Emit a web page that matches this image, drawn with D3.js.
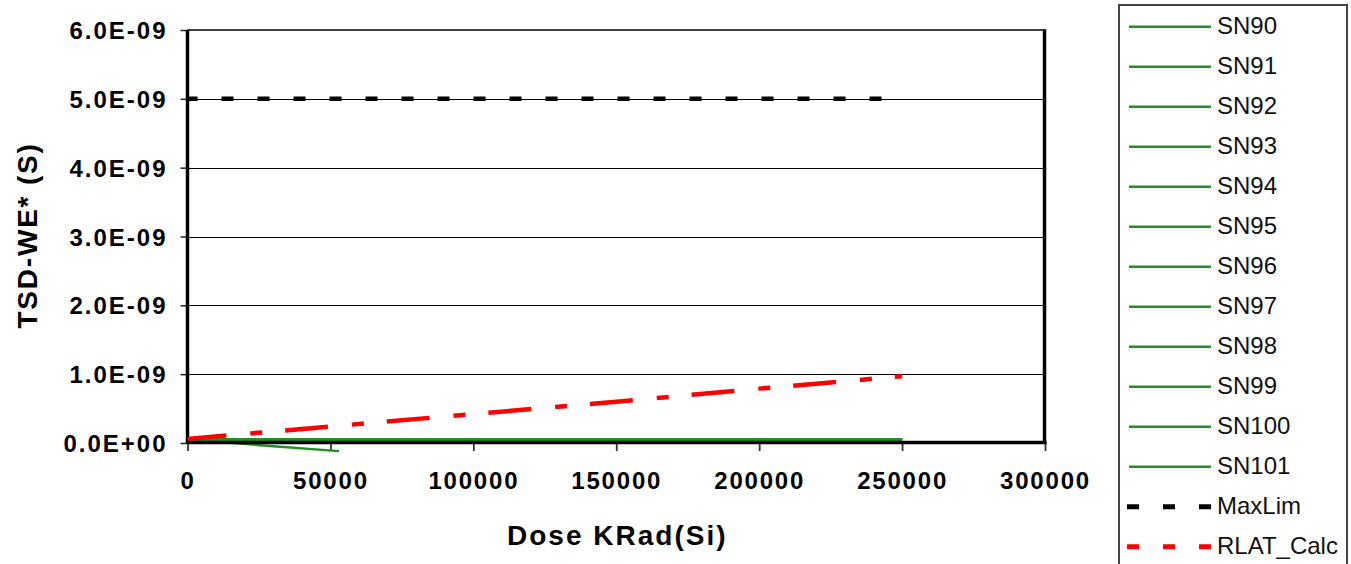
<!DOCTYPE html>
<html><head><meta charset="utf-8">
<script src="https://cdn.jsdelivr.net/npm/d3@7"></script>
<style>body{margin:0;background:#fff}svg{display:block}</style>
</head><body>
<svg id="c" width="1351" height="564"></svg>
<script>
// ---- data ----
const doses = [0, 50000, 100000, 150000, 200000, 250000];
const sn90Dose = [0, 26500, 53000];
const snNames = ["SN90","SN91","SN92","SN93","SN94","SN95","SN96","SN97","SN98","SN99","SN100","SN101"];
const sn90Values = [5.0e-11, -3.5e-11, -1.18e-10];
const sn91Values = [5.5e-11, 5.5e-11, 5.5e-11, 5.5e-11, 5.5e-11, 5.5e-11];
const sn92Values = [5.5e-11, 5.5e-11, 5.5e-11, 5.5e-11, 5.5e-11, 5.5e-11];
const sn93Values = [5.5e-11, 5.5e-11, 5.5e-11, 5.5e-11, 5.5e-11, 5.5e-11];
const sn94Values = [5.5e-11, 5.5e-11, 5.5e-11, 5.5e-11, 5.5e-11, 5.5e-11];
const sn95Values = [5.5e-11, 5.5e-11, 5.5e-11, 5.5e-11, 5.5e-11, 5.5e-11];
const sn96Values = [5.5e-11, 5.5e-11, 5.5e-11, 5.5e-11, 5.5e-11, 5.5e-11];
const sn97Values = [5.5e-11, 5.5e-11, 5.5e-11, 5.5e-11, 5.5e-11, 5.5e-11];
const sn98Values = [5.5e-11, 5.5e-11, 5.5e-11, 5.5e-11, 5.5e-11, 5.5e-11];
const sn99Values = [5.5e-11, 5.5e-11, 5.5e-11, 5.5e-11, 5.5e-11, 5.5e-11];
const sn100Values = [5.5e-11, 5.5e-11, 5.5e-11, 5.5e-11, 5.5e-11, 5.5e-11];
const sn101Values = [5.5e-11, 5.5e-11, 5.5e-11, 5.5e-11, 5.5e-11, 5.5e-11];
const maxLimValues = [5.0e-9, 5.0e-9, 5.0e-9, 5.0e-9, 5.0e-9, 5.0e-9];
const rlatValues = [0.06e-9, 0.24e-9, 0.42e-9, 0.60e-9, 0.79e-9, 0.97e-9];
const yTicks = [0, 1e-9, 2e-9, 3e-9, 4e-9, 5e-9, 6e-9];
const yTickLabels = ["0.0E+00","1.0E-09","2.0E-09","3.0E-09","4.0E-09","5.0E-09","6.0E-09"];
const xTicks = [0, 50000, 100000, 150000, 200000, 250000, 300000];
const xTickLabels = ["0","50000","100000","150000","200000","250000","300000"];

const snValues = [sn90Values, sn91Values, sn92Values, sn93Values, sn94Values, sn95Values,
  sn96Values, sn97Values, sn98Values, sn99Values, sn100Values, sn101Values];

// ---- layout ----
const svg = d3.select("#c");
const L = 187.5, R = 1045, T = 30, B = 443;
const x = d3.scaleLinear().domain([0, 300000]).range([L, R]);
const y = d3.scaleLinear().domain([0, 6e-9]).range([B, T]);
const green = "#229022";
const font = "'Liberation Sans', Arial, sans-serif";

// gridlines
svg.append("g").selectAll("line").data(yTicks.slice(1, 6)).join("line")
  .attr("x1", L).attr("x2", R).attr("y1", d => Math.round(y(d)) + 0.5).attr("y2", d => Math.round(y(d)) + 0.5)
  .attr("stroke", "#000").attr("stroke-width", 1);
// top border
svg.append("line").attr("x1", L).attr("x2", R).attr("y1", y(6e-9)).attr("y2", y(6e-9))
  .attr("stroke", "#000").attr("stroke-width", 1.5);

// y axis
const yAxis = d3.axisLeft(y).tickValues(yTicks).tickSize(7).tickPadding(13)
  .tickFormat((d, i) => yTickLabels[i]);
const gy = svg.append("g").attr("transform", `translate(${L},0)`).call(yAxis);
gy.select(".domain").remove();
gy.selectAll(".tick line").attr("stroke", "#222").attr("stroke-width", 1.5);
gy.selectAll(".tick text").attr("font-family", font).attr("font-size", 24).attr("font-weight", "bold")
  .attr("fill", "#000").attr("dy", "0.36em").attr("letter-spacing", "2px");

// x axis
const xAxis = d3.axisBottom(x).tickValues(xTicks).tickSize(8).tickPadding(21)
  .tickFormat((d, i) => xTickLabels[i]);
const gx = svg.append("g").attr("transform", `translate(0,${B})`).call(xAxis);
gx.select(".domain").remove();
gx.selectAll(".tick line").attr("stroke", "#333").attr("stroke-width", 1.8);
gx.selectAll(".tick text").attr("font-family", font).attr("font-size", 24).attr("font-weight", "bold")
  .attr("fill", "#000").attr("dy", "0.71em").attr("letter-spacing", "1.8px");

// series
const line = d3.line().x(d => x(d[0])).y(d => y(d[1]));
snValues.forEach((vals, i) => {
  const ds = i === 0 ? sn90Dose : doses;
  svg.append("path").datum(ds.map((d, j) => [d, vals[j]]))
    .attr("d", line).attr("fill", "none").attr("stroke", green).attr("stroke-width", 2.5);
});

// axis lines (thick)
svg.append("line").attr("x1", L).attr("x2", R + 1.5).attr("y1", B - 0.5).attr("y2", B - 0.5)
  .attr("stroke", "#000").attr("stroke-width", 3.5);
svg.append("line").attr("x1", L).attr("x2", L).attr("y1", T).attr("y2", B + 1)
  .attr("stroke", "#000").attr("stroke-width", 3.5);
svg.append("line").attr("x1", R - 0.5).attr("x2", R - 0.5).attr("y1", T - 0.75).attr("y2", B + 1)
  .attr("stroke", "#000").attr("stroke-width", 3.5);

svg.append("path").datum(doses.map((d, j) => [d, maxLimValues[j]]))
  .attr("d", line).attr("fill", "none").attr("stroke", "#000").attr("stroke-width", 4.5)
  .attr("stroke-dasharray", "12,24").attr("stroke-dashoffset", 2);
svg.append("path").datum(doses.map((d, j) => [d, rlatValues[j]]))
  .attr("d", line).attr("fill", "none").attr("stroke", "#ff0000").attr("stroke-width", 4.5)
  .attr("stroke-dasharray", "43,24,12,23").attr("stroke-dashoffset", 4);

// axis titles
svg.append("text").attr("x", (L + R) / 2 + 1).attr("y", 545).attr("text-anchor", "middle")
  .attr("font-family", font).attr("font-size", 28).attr("font-weight", "bold").attr("letter-spacing", "2px")
  .text("Dose KRad(Si)");
svg.append("text").attr("transform", `translate(37,${(T + B) / 2 - 1}) rotate(-90)`).attr("text-anchor", "middle")
  .attr("font-family", font).attr("font-size", 28).attr("font-weight", "bold").attr("letter-spacing", "1.8px")
  .text("TSD-WE* (S)");

// legend
const lg = svg.append("g");
lg.append("rect").attr("x", 1119).attr("y", 5).attr("width", 228).attr("height", 580)
  .attr("fill", "#fff").attr("stroke", "#444").attr("stroke-width", 2);
const legendItems = snNames.map(n => ({name: n, color: green, dash: null, w: 2.5}))
  .concat([{name: "MaxLim", color: "#000", dash: "12,24", w: 5},
           {name: "RLAT_Calc", color: "#ff0000", dash: "12,24", w: 5}]);
legendItems.forEach((it, i) => {
  const cy = 26.7 + i * 40;
  lg.append("line").attr("x1", it.dash ? 1127 : 1129).attr("x2", 1211).attr("y1", cy).attr("y2", cy)
    .attr("stroke", it.color).attr("stroke-width", it.w).attr("stroke-dasharray", it.dash);
  lg.append("text").attr("x", 1217).attr("y", cy + 7.5).attr("font-family", font).attr("font-size", 24)
    .attr("fill", "#111").text(it.name);
});
</script>
</body></html>
